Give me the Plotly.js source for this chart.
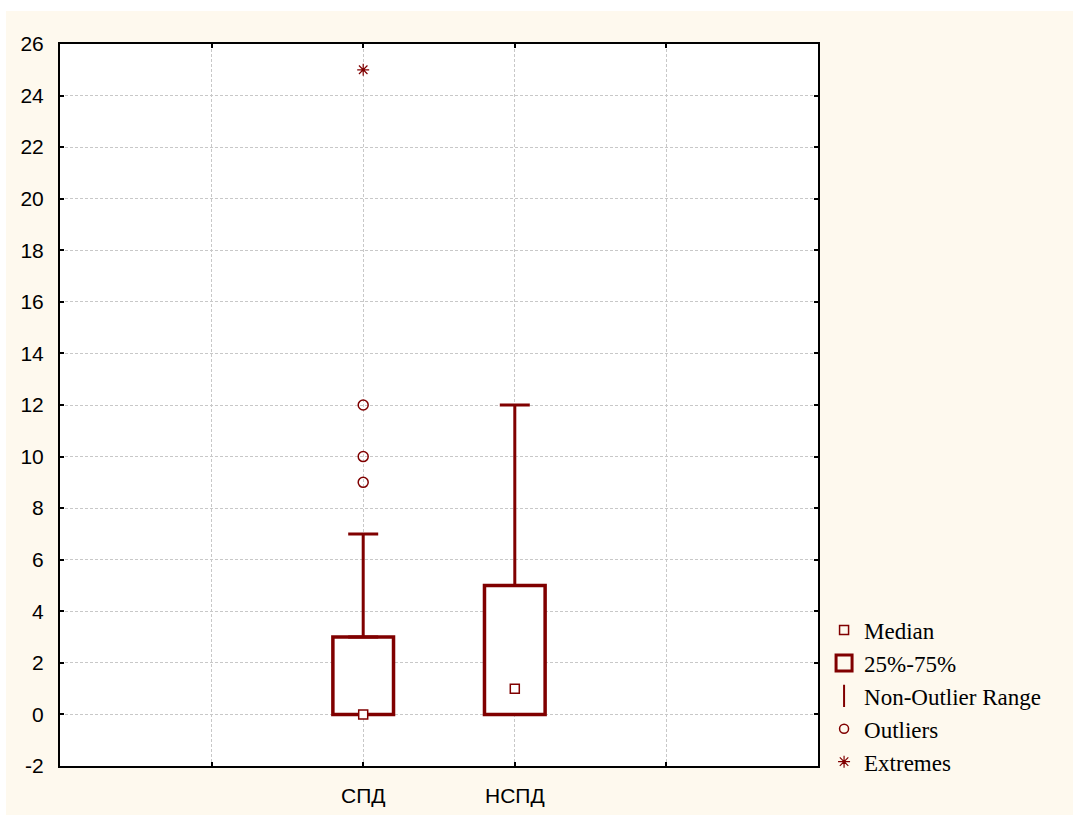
<!DOCTYPE html>
<html>
<head>
<meta charset="utf-8">
<script src="https://cdn.plot.ly/plotly-3.0.1.min.js"></script>
<style>
html,body{margin:0;padding:0;background:#ffffff;}
#chart{position:absolute;left:6px;top:11px;width:1067px;height:804px;}
</style>
</head>
<body>
<div id="chart"></div>
<script>
// Data
const categories = ['СПД', 'НСПД'];
const catPos = [2, 3];
const q1 = [0, 0];
const median = [0, 1];
const q3 = [3, 5];
const upperFence = [7, 12];
const outlierX = [2, 2, 2];
const outlierY = [9, 10, 12];
const extremeX = [2];
const extremeY = [25];
const xTickVals = [1, 2, 3, 4];
const xTickText = ['', 'СПД', 'НСПД', ''];
const yTickVals = [-2, 0, 2, 4, 6, 8, 10, 12, 14, 16, 18, 20, 22, 24, 26];
const yTickText = ['-2', '0', '2', '4', '6', '8', '10', '12', '14', '16', '18', '20', '22', '24', '26'];

const RED = '#800000';

const traces = [
  {
    type: 'bar', x: catPos, base: q1, y: q3.map((v, i) => v - q1[i]),
    width: 0.4, marker: {color: '#ffffff', line: {color: RED, width: 3.5}},
    showlegend: false, hoverinfo: 'skip'
  },
  {
    type: 'scatter', mode: 'markers', x: catPos, y: q3,
    marker: {opacity: 0, size: 1, color: RED},
    error_y: {type: 'data', symmetric: false,
      array: upperFence.map((v, i) => v - q3[i]),
      arrayminus: q3.map(() => 0),
      color: RED, thickness: 3, width: 15},
    showlegend: false, hoverinfo: 'skip'
  },
  {
    type: 'scatter', mode: 'markers', x: catPos, y: median,
    marker: {symbol: 'square', size: 9, color: '#ffffff', line: {color: RED, width: 1.5}},
    showlegend: false
  },
  {
    type: 'scatter', mode: 'markers', x: outlierX, y: outlierY,
    marker: {symbol: 'circle-open', size: 10, color: RED, line: {width: 1.5}},
    showlegend: false
  },
  {
    type: 'scatter', mode: 'markers', x: extremeX, y: extremeY,
    marker: {symbol: 'asterisk-open', size: 10, color: RED, line: {width: 1.2, color: RED}},
    showlegend: false
  },
  // legend entries
  {type: 'scatter', mode: 'markers', x: [null], y: [null], name: 'Median',
    marker: {symbol: 'square-open', size: 9, color: RED, line: {width: 1.5}}},
  {type: 'scatter', mode: 'markers', x: [null], y: [null], name: '25%-75%',
    marker: {symbol: 'square-open', size: 20, color: RED, line: {width: 3}}},
  {type: 'scatter', mode: 'markers', x: [null], y: [null], name: 'Non-Outlier Range',
    marker: {symbol: 'line-ns-open', size: 24, color: RED, line: {width: 2, color: RED}}},
  {type: 'scatter', mode: 'markers', x: [null], y: [null], name: 'Outliers',
    marker: {symbol: 'circle-open', size: 9, color: RED, line: {width: 1.5}}},
  {type: 'scatter', mode: 'markers', x: [null], y: [null], name: 'Extremes',
    marker: {symbol: 'asterisk-open', size: 10, color: RED, line: {width: 1.2, color: RED}}}
];

const axisCommon = {
  showline: true, linecolor: '#000000', linewidth: 2, mirror: 'ticks',
  ticks: 'inside', ticklen: 4, tickwidth: 2, tickcolor: '#000000',
  showgrid: true, gridcolor: '#c8c8c8', gridwidth: 1, griddash: '3px,2px',
  zeroline: false, fixedrange: true,
  tickfont: {family: 'Liberation Sans, Arial, sans-serif', size: 21, color: '#000000'}
};

const layout = {
  width: 1067, height: 804,
  margin: {l: 54, r: 255, t: 33, b: 49},
  paper_bgcolor: '#fef9ee', plot_bgcolor: '#ffffff',
  barmode: 'overlay',
  xaxis: Object.assign({}, axisCommon, {
    range: [0, 5], tickmode: 'array', tickvals: xTickVals, ticktext: xTickText,
    ticklabelstandoff: 10
  }),
  yaxis: Object.assign({}, axisCommon, {
    range: [-2, 26], tickmode: 'array', tickvals: yTickVals, ticktext: yTickText,
    ticklabelstandoff: 10
  }),
  showlegend: true,
  legend: {
    x: 1.008, xanchor: 'left', y: 0.218, yanchor: 'top',
    bgcolor: 'rgba(0,0,0,0)',
    font: {family: 'Liberation Serif, Times New Roman, serif', size: 23, color: '#000000'},
    itemsizing: 'trace'
  },
  hovermode: false
};

Plotly.newPlot('chart', traces, layout, {displayModeBar: false, staticPlot: true});
</script>
</body>
</html>
